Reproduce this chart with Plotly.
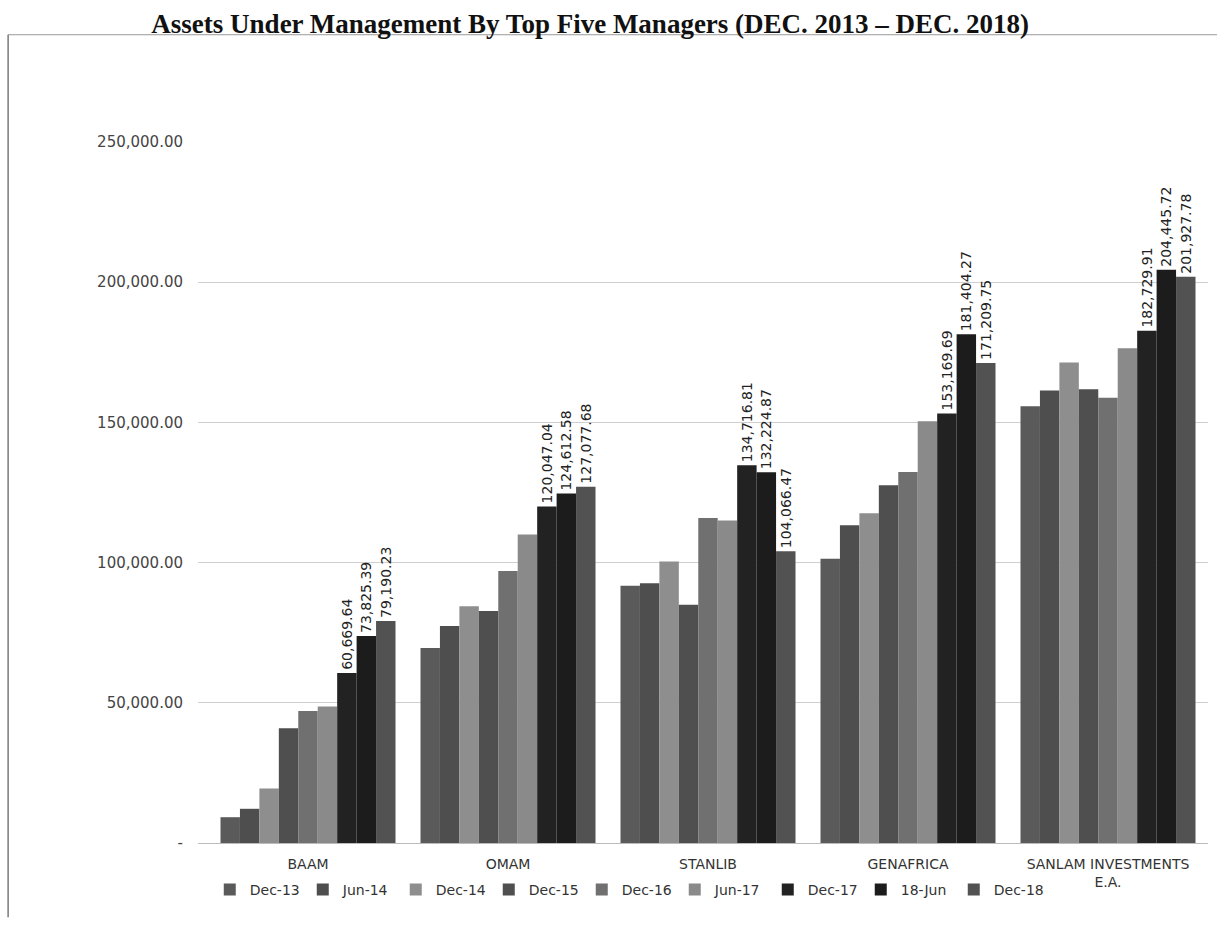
import plotly.graph_objects as go

managers = ["BAAM", "OMAM", "STANLIB", "GENAFRICA", "SANLAM INVESTMENTS<br>E.A."]
periods = ["Dec-13", "Jun-14", "Dec-14", "Dec-15", "Dec-16", "Jun-17", "Dec-17", "18-Jun", "Dec-18"]

dec13 = [9200, 69500, 91700, 101400, 155800]
jun14 = [12200, 77400, 92600, 113300, 161400]
dec14 = [19400, 84400, 100400, 117600, 171400]
dec15 = [40900, 82700, 85000, 127600, 161800]
dec16 = [47100, 97000, 115900, 132300, 158800]
jun17 = [48700, 110000, 115000, 150400, 176400]
dec17 = [60669.64, 120047.04, 134716.81, 153169.69, 182729.91]
jun18 = [73825.39, 124612.58, 132224.87, 181404.27, 204445.72]
dec18 = [79190.23, 127077.68, 104066.47, 171209.75, 201927.78]

series = [dec13, jun14, dec14, dec15, dec16, jun17, dec17, jun18, dec18]
labelled = [False, False, False, False, False, False, True, True, True]
colors = ["#5a5a5a", "#4e4e4e", "#8e8e8e", "#4f4f4f", "#707070",
          "#8a8a8a", "#222222", "#1c1c1c", "#525252"]

ytick_vals = [0, 50000, 100000, 150000, 200000, 250000]
ytick_text = ["-", "50,000.00", "100,000.00", "150,000.00", "200,000.00", "250,000.00"]

fig = go.Figure()
for name, vals, lab, col in zip(periods, series, labelled, colors):
    fig.add_trace(go.Bar(
        x=managers, y=vals, name=name,
        marker=dict(color=col, line=dict(width=0)),
        texttemplate="%{y:,.2f}" if lab else None,
        textposition="outside" if lab else "none",
        textangle=-90,
        constraintext="none",
        cliponaxis=False,
        textfont=dict(family="DejaVu Sans", size=14, color="#222222"),
        hoverinfo="x+y+name",
    ))

fig.update_layout(
    width=1217, height=925,
    margin=dict(l=198, r=9, t=142, b=82),
    paper_bgcolor="white", plot_bgcolor="white",
    barmode="group", bargap=0.125, bargroupgap=0,
    title=dict(
        text="<b>Assets Under Management By Top Five Managers (DEC. 2013 \u2013 DEC. 2018)</b>",
        font=dict(family="Liberation Serif", size=27, color="#111111"),
        x=0.485, xref="container", xanchor="center",
        y=0.985, yref="container", yanchor="top",
    ),
    xaxis=dict(
        range=[-0.55, 4.5],
        showgrid=False, zeroline=False, showline=True, linecolor="#bbbbbb", linewidth=1,
        ticks="", ticklabelstandoff=8,
        tickfont=dict(family="DejaVu Sans", size=14, color="#333333"),
    ),
    yaxis=dict(
        range=[0, 250000], tickvals=ytick_vals, ticktext=ytick_text,
        showgrid=True, gridcolor="#cfcfcf", gridwidth=1, zeroline=False,
        showline=False, ticks="", ticklabelstandoff=14,
        tickfont=dict(family="DejaVu Sans", size=15, color="#444444"),
    ),
    legend=dict(
        orientation="h", x=0.426, xanchor="center", y=-0.067, yanchor="middle",
        font=dict(family="DejaVu Sans", size=14, color="#333333"),
        entrywidth=48, entrywidthmode="pixels", itemwidth=30,
        bgcolor="rgba(0,0,0,0)",
    ),
    showlegend=True,
)

# document frame around the chart (as in the scanned page)
fig.add_shape(type="line", xref="paper", yref="paper",
              x0=-0.188, x1=1.01, y0=1.153, y1=1.153,
              line=dict(color="#9a9a9a", width=1))
fig.add_shape(type="line", xref="paper", yref="paper",
              x0=-0.188, x1=-0.188, y0=1.153, y1=-0.106,
              line=dict(color="#7a7a7a", width=1.5))

fig.write_html("out.html")
